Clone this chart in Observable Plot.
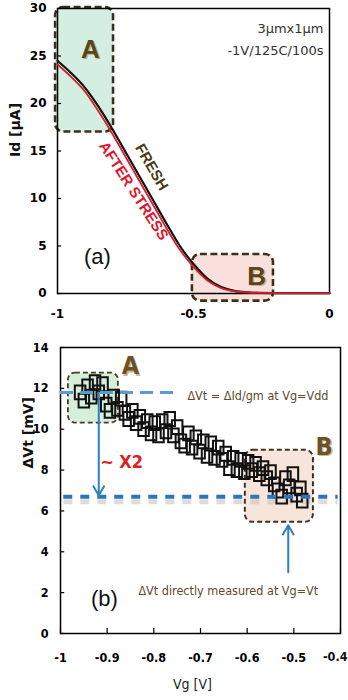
<!DOCTYPE html>
<html><head><meta charset="utf-8">
<script src="https://cdn.jsdelivr.net/npm/d3@7"></script>
<script src="https://cdn.jsdelivr.net/npm/@observablehq/plot@0.6"></script>
<style>
body{margin:0;background:#fff;width:348px;height:700px;overflow:hidden}
svg{display:block}
</style>
</head><body><div id="pa"></div><div id="pb"></div>
<script>
// ---------- Panel (a): Id vs Vg ----------
const vgA = [-1,-0.95,-0.9,-0.85,-0.8,-0.75,-0.7,-0.65,-0.6,-0.55,-0.5,-0.45,-0.4,-0.35,-0.3,-0.25,-0.2,-0.15,-0.1,-0.05,0];
const idFresh  = [24.5,23.2,21.7,19.7,17.4,14.9,12.4,9.9,7.4,5.0,3.1,1.6,0.7,0.28,0.12,0.06,0.04,0.03,0.03,0.03,0.03];
const idStress = [24.1,22.8,21.3,19.2,16.9,14.4,11.9,9.4,6.9,4.6,2.8,1.4,0.6,0.24,0.1,0.06,0.04,0.03,0.03,0.03,0.03];
const yTicksA = [0,5,10,15,20,25,30];
const xTicksA = [-1,-0.5,0];

// ---------- Panel (b): dVt vs Vg ----------
const vgB = [-0.958,-0.950,-0.942,-0.934,-0.926,-0.918,-0.910,-0.902,-0.894,-0.886,-0.878,-0.870,-0.862,-0.854,-0.846,-0.838,-0.830,-0.822,-0.814,-0.806,-0.798,-0.790,-0.782,-0.774,-0.766,-0.758,-0.750,-0.742,-0.734,-0.726,-0.718,-0.710,-0.702,-0.694,-0.686,-0.678,-0.670,-0.662,-0.654,-0.646,-0.638,-0.630,-0.622,-0.614,-0.606,-0.598,-0.590,-0.582,-0.574,-0.566,-0.558,-0.550,-0.542,-0.534,-0.526,-0.518,-0.510,-0.502,-0.494,-0.486,-0.482];
const dVt = [11.8,11.4,12.1,11.6,12.3,11.8,12.2,11.2,10.9,11.6,11.0,11.5,10.8,10.5,10.9,10.3,10.6,10.0,10.4,9.8,10.3,9.7,10.4,9.9,10.5,9.7,10.1,9.4,9.2,9.8,9.1,9.6,8.9,9.4,8.7,9.3,8.6,9.1,8.5,8.8,8.1,8.6,8.0,8.5,7.9,8.4,8.0,8.3,7.8,8.1,7.6,7.9,7.3,7.0,6.7,7.6,7.2,7.8,6.8,7.1,6.5];
const yTicksB = [0,2,4,6,8,10,12,14];
const xTicksB = [-1,-0.9,-0.8,-0.7,-0.6,-0.5,-0.4];
const dVtGate = [11.8];     // dVt = dId/gm at Vg=Vdd
const dVtDirect = [6.7];    // dVt measured at Vg=Vt

const NARROW = '"Liberation Sans Narrow","DejaVu Sans Condensed",sans-serif';
const fresh = vgA.map((v,i)=>({vg:v,id:idFresh[i]}));
const stressed = vgA.map((v,i)=>({vg:v,id:idStress[i]}));
const pts = vgB.map((v,i)=>({vg:v,dvt:dVt[i]}));
// tall open rectangle marker (the reference's "squares" are slightly tall)
const tallRect = {draw(ctx, size){ const s=Math.sqrt(size); const w=s*0.9, h=s*1.18; ctx.rect(-w/2,-h/2,w,h); }};

const plotA = Plot.plot({
  width:348,height:330,marginLeft:57,marginRight:19,marginTop:8,marginBottom:37,
  x:{domain:[-1,0],axis:null}, y:{domain:[0,30],axis:null},
  style:{fontFamily:"DejaVu Sans",fontSize:"12px",background:"white",overflow:"visible"},
  marks:[
    Plot.rect([0],{x1:-1.007,x2:-0.794,y1:17,y2:30.1,rx:8,fill:"#d4efe1",stroke:"#3d301a",strokeWidth:2.6,strokeDasharray:"7,3.5"}),
    Plot.rect([0],{x1:-0.504,x2:-0.206,y1:-0.8,y2:4.1,rx:8,fill:"#f9e0dc",stroke:"#3d301a",strokeWidth:2.6,strokeDasharray:"7,3.5"}),
    Plot.frame({stroke:"black",strokeWidth:1.5}),
    Plot.ruleY(yTicksA,{x1:-1,x2:-0.985,stroke:"black",strokeWidth:1.2}),
    Plot.axisY({ticks:yTicksA,tickSize:0,tickPadding:11,fontWeight:"bold",fontSize:12,fontFamily:"DejaVu Sans",tickFormat:d=>String(d),label:null}),
    Plot.axisX({ticks:xTicksA,tickSize:0,tickPadding:16,fontWeight:"bold",fontSize:12,fontFamily:"DejaVu Sans",tickFormat:d=>String(d),label:null}),
    Plot.line(fresh,{x:"vg",y:"id",stroke:"#111",strokeWidth:2.2,curve:"monotone-x"}),
    Plot.line(stressed,{x:"vg",y:"id",stroke:"#d3202c",strokeWidth:1.8,curve:"monotone-x"}),
    Plot.text(["A"],{x:-0.879,y:25.7,dx:1.5,dy:1.5,fill:"#bfae8a",fontWeight:"bold",fontSize:26,fontFamily:"Liberation Sans"}),
    Plot.text(["A"],{x:-0.879,y:25.7,fill:"#5a4518",fontWeight:"bold",fontSize:26,fontFamily:"Liberation Sans"}),
    Plot.text(["B"],{x:-0.268,y:1.8,dx:1.5,dy:1.5,fill:"#c9b08f",fontWeight:"bold",fontSize:26,fontFamily:"Liberation Sans"}),
    Plot.text(["B"],{x:-0.268,y:1.8,fill:"#5a4518",fontWeight:"bold",fontSize:26,fontFamily:"Liberation Sans"}),
    Plot.text(["FRESH"],{x:-0.654,y:13.3,rotate:60,fill:"#4a3a12",fontWeight:"bold",fontSize:15,fontFamily:"Liberation Sans"}),
    Plot.text(["AFTER STRESS"],{x:-0.72,y:10.8,rotate:57,fill:"#e0142c",fontWeight:"bold",fontSize:15,fontFamily:"Liberation Sans"}),
    Plot.text(["3μmx1μm"],{frameAnchor:"top-right",dx:-6,dy:15,textAnchor:"end",fill:"#333",fontSize:13,fontFamily:"DejaVu Sans"}),
    Plot.text(["-1V/125C/100s"],{frameAnchor:"top-right",dx:-6,dy:37,textAnchor:"end",fill:"#333",fontSize:13,fontFamily:"DejaVu Sans"}),
    Plot.text(["(a)"],{x:-0.853,y:3.8,fill:"#111",fontSize:22,fontFamily:"Liberation Sans"}),
    Plot.text(["Id [μA]"],{frameAnchor:"left",dx:-42,dy:6,rotate:-90,fill:"#111",fontWeight:"bold",fontSize:14,fontFamily:"DejaVu Sans"})
  ]
});
document.getElementById("pa").appendChild(plotA);

const plotB = Plot.plot({
  width:348,height:370,marginLeft:60,marginRight:8,marginTop:17,marginBottom:67,
  x:{domain:[-1,-0.4],axis:null}, y:{domain:[0,14],axis:null},
  style:{fontFamily:NARROW,fontSize:"13px",background:"white",overflow:"visible"},
  marks:[
    Plot.rect([0],{x1:-0.983,x2:-0.876,y1:10.3,y2:12.75,rx:7,fill:"#d5efdb",stroke:"#4a3c22",strokeWidth:1.8,strokeDasharray:"5,3"}),
    Plot.rect([0],{x1:-0.604,x2:-0.458,y1:5.44,y2:8.97,rx:8,fill:"#f7e4db",stroke:"#3f3322",strokeWidth:2,strokeDasharray:"5,3"}),
    Plot.ruleY(dVtDirect,{y:d=>d-0.25,x1:-0.993,x2:-0.405,stroke:"#c4c4c4",strokeWidth:5,strokeOpacity:0.6,strokeDasharray:"9,8"}),
    Plot.frame({stroke:"black",strokeWidth:1.5}),
    Plot.ruleY(yTicksB,{x1:-1,x2:-0.991,stroke:"black",strokeWidth:1.2}),
    Plot.ruleX(xTicksB,{y1:0,y2:0.25,stroke:"black",strokeWidth:1.2}),
    Plot.axisY({ticks:yTicksB,tickSize:0,tickPadding:12,fontWeight:"bold",fontSize:12.5,fontFamily:NARROW,tickFormat:d=>String(d),label:null}),
    Plot.axisX({ticks:xTicksB.slice(0,-1),tickSize:0,tickPadding:20,fontWeight:"bold",fontSize:12.5,fontFamily:NARROW,tickFormat:d=>String(d),label:null}),
    Plot.text(xTicksB.slice(-1),{x:d=>d,frameAnchor:"bottom",dy:27,dx:7,textAnchor:"end",text:d=>String(d),fontWeight:"bold",fontSize:12.5,fontFamily:NARROW,fill:"#111"}),
    Plot.dot(pts,{x:"vg",y:"dvt",symbol:tallRect,r:6.6,stroke:"#111",strokeWidth:2,fill:"none"}),
    Plot.ruleY(dVtGate,{x1:-1,x2:-0.757,stroke:"#5b9bd5",strokeWidth:3,strokeDasharray:"13,7"}),
    Plot.ruleY(dVtDirect,{x1:-0.993,x2:-0.405,stroke:"#2e75b6",strokeWidth:4,strokeDasharray:"9,8"}),
    Plot.arrow([0],{x1:-0.918,y1:11.8,x2:-0.918,y2:6.75,stroke:"#2f7fc1",strokeWidth:2,headLength:8}),
    Plot.arrow([0],{x1:-0.512,y1:3.0,x2:-0.512,y2:5.3,stroke:"#2f7fc1",strokeWidth:2,headLength:8}),
    Plot.text(["A"],{x:-0.85,y:13.07,dx:1.5,dy:1.5,fill:"#cdb990",fontWeight:"bold",fontSize:25,fontFamily:NARROW}),
    Plot.text(["A"],{x:-0.85,y:13.07,fill:"#6b5228",fontWeight:"bold",fontSize:25,fontFamily:NARROW}),
    Plot.text(["B"],{x:-0.435,y:9.15,dx:1.5,dy:1.5,fill:"#cdb990",fontWeight:"bold",fontSize:25,fontFamily:NARROW}),
    Plot.text(["B"],{x:-0.435,y:9.15,fill:"#6b5228",fontWeight:"bold",fontSize:25,fontFamily:NARROW}),
    Plot.text(["~ X2"],{x:-0.869,y:8.4,fill:"#e02020",fontWeight:"bold",fontSize:18,fontFamily:NARROW}),
    Plot.text(["ΔVt = ΔId/gm at Vg=Vdd"],{x:-0.728,y:11.65,textAnchor:"start",fill:"#5c4a2e",fontSize:12.5,fontFamily:NARROW}),
    Plot.text(["ΔVt directly measured at Vg=Vt"],{x:-0.833,y:2.1,textAnchor:"start",fill:"#5c4a2e",fontSize:12.5,fontFamily:NARROW}),
    Plot.text(["(b)"],{x:-0.906,y:1.7,fill:"#111",fontSize:22,fontFamily:"Liberation Sans"}),
    Plot.text(["ΔVt [mV]"],{frameAnchor:"left",dx:-32,dy:-22,rotate:-90,fill:"#111",fontWeight:"bold",fontSize:14,fontFamily:"DejaVu Sans"}),
    Plot.text(["Vg [V]"],{frameAnchor:"bottom",dx:-8,dy:55,fill:"#222",fontSize:14,fontFamily:NARROW})
  ]
});
document.getElementById("pb").appendChild(plotB);
</script></body></html>
